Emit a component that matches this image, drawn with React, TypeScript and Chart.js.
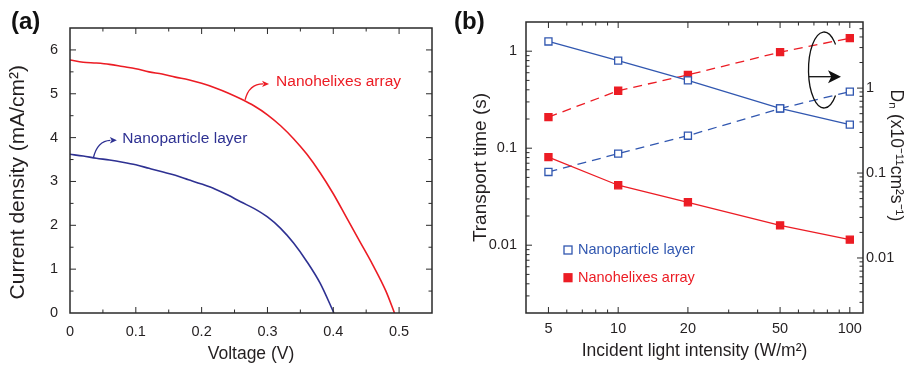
import React, { useEffect, useRef } from "react";
import { Chart, registerables } from "chart.js";

Chart.register(...registerables);

const FONT = '"Liberation Sans", Arial, Helvetica, sans-serif';
const TEXT = "#231f20";
const AXIS = "#2a2a2a";
const RED = "#ec1c24";
const NAVY = "#2e3192";
const BLUE = "#3157b0";

// ---------- Panel (a): J–V curves ----------
const voltageNH = [0, 0.02, 0.04, 0.06, 0.08, 0.1, 0.12, 0.14, 0.16, 0.18, 0.2, 0.22, 0.24, 0.26, 0.28, 0.3, 0.32, 0.34, 0.36, 0.38, 0.4, 0.42, 0.44, 0.46, 0.48, 0.493];
const currentNH = [5.77, 5.72, 5.7, 5.67, 5.62, 5.57, 5.5, 5.45, 5.38, 5.32, 5.24, 5.14, 5.02, 4.88, 4.72, 4.52, 4.27, 3.97, 3.62, 3.2, 2.72, 2.18, 1.64, 1.1, 0.5, 0];
const voltageNP = [0, 0.02, 0.04, 0.06, 0.08, 0.1, 0.12, 0.14, 0.16, 0.18, 0.2, 0.22, 0.24, 0.26, 0.28, 0.3, 0.32, 0.34, 0.36, 0.38, 0.401];
const currentNP = [3.62, 3.58, 3.53, 3.49, 3.44, 3.38, 3.3, 3.22, 3.14, 3.04, 2.94, 2.83, 2.69, 2.53, 2.38, 2.19, 1.93, 1.59, 1.17, 0.68, 0];
const xTicksA = [0, 0.1, 0.2, 0.3, 0.4, 0.5];
const yTicksA = [0, 1, 2, 3, 4, 5, 6];

// ---------- Panel (b): transport time & diffusion coefficient ----------
const intensity = [5, 10, 20, 50, 100];
const npTime = [1.26, 0.8, 0.5, 0.257, 0.175];
const nhTime = [0.081, 0.0415, 0.0277, 0.016, 0.0114];
const npDn = [0.103, 0.169, 0.275, 0.575, 0.91];
const nhDn = [0.456, 0.93, 1.43, 2.65, 3.87];
const xTicksB = [5, 10, 20, 50, 100];
const yTicksB = [0.01, 0.1, 1];

const near = (a: number, b: number) => Math.abs(a - b) <= Math.abs(b) * 1e-6 + 1e-9;
const inList = (list: number[], v: number) => list.some((t) => near(v, t));
const labelFor = (list: number[]) => (value: any) => {
  const v = Number(value);
  const hit = list.find((t) => near(v, t));
  return hit === undefined ? "" : String(hit);
};
const isNiceLog = (v: number) => {
  if (v <= 0) return false;
  const e = Math.floor(Math.log10(v) + 1e-9);
  const m = v / Math.pow(10, e);
  return Math.abs(m - Math.round(m)) < 1e-6;
};

type TickSpec = { id: string; sides: ("top" | "bottom" | "left" | "right")[]; major: (v: number) => boolean; keep: (v: number) => boolean };

function frameTicks(specs: TickSpec[]) {
  return {
    id: "frameTicks",
    afterDatasetsDraw(chart: any) {
      const { ctx, chartArea: a } = chart;
      ctx.save();
      ctx.strokeStyle = AXIS;
      ctx.lineWidth = 1;
      for (const sp of specs) {
        const s = chart.scales[sp.id];
        for (const t of s.ticks) {
          const v = t.value;
          if (!sp.keep(v)) continue;
          const p = s.getPixelForValue(v);
          const len = sp.major(v) ? 6 : 3.5;
          ctx.beginPath();
          for (const side of sp.sides) {
            if (side === "bottom" || side === "top") {
              if (p < a.left + 1 || p > a.right - 1) continue;
              const y0 = side === "bottom" ? a.bottom : a.top;
              const dir = side === "bottom" ? -1 : 1;
              ctx.moveTo(p, y0);
              ctx.lineTo(p, y0 + dir * len);
            } else {
              if (p < a.top + 1 || p > a.bottom - 1) continue;
              const x0 = side === "left" ? a.left : a.right;
              const dir = side === "left" ? 1 : -1;
              ctx.moveTo(x0, p);
              ctx.lineTo(x0 + dir * len, p);
            }
          }
          ctx.stroke();
        }
      }
      ctx.lineWidth = 1.5;
      ctx.strokeRect(a.left, a.top, a.right - a.left, a.bottom - a.top);
      ctx.restore();
    },
  };
}

function arrowHead(ctx: CanvasRenderingContext2D, tx: number, ty: number, len: number, half: number, color: string) {
  ctx.fillStyle = color;
  ctx.beginPath();
  ctx.moveTo(tx, ty);
  ctx.lineTo(tx - len, ty - half);
  ctx.lineTo(tx - len * 0.75, ty);
  ctx.lineTo(tx - len, ty + half);
  ctx.closePath();
  ctx.fill();
}

const annotationsA = {
  id: "annA",
  afterDraw(chart: any) {
    const { ctx } = chart;
    const xs = chart.scales.x;
    const ys = chart.scales.y;
    ctx.save();
    ctx.fillStyle = "#111";
    ctx.font = `bold 24px ${FONT}`;
    ctx.textBaseline = "middle";
    ctx.textAlign = "left";
    ctx.fillText("(a)", 11, 22);

    // red label
    let sx = xs.getPixelForValue(0.266);
    let sy = ys.getPixelForValue(4.86);
    ctx.strokeStyle = RED;
    ctx.lineWidth = 1.3;
    ctx.beginPath();
    ctx.moveTo(sx, sy);
    ctx.quadraticCurveTo(sx + 4, sy - 16, sx + 18, sy - 16);
    ctx.stroke();
    arrowHead(ctx, sx + 24, sy - 16, 7, 3.2, RED);
    ctx.fillStyle = RED;
    ctx.font = `15.5px ${FONT}`;
    ctx.fillText("Nanohelixes array", sx + 31, sy - 18);

    // blue label
    sx = xs.getPixelForValue(0.0355);
    sy = ys.getPixelForValue(3.54);
    ctx.strokeStyle = NAVY;
    ctx.beginPath();
    ctx.moveTo(sx, sy);
    ctx.quadraticCurveTo(sx + 4, sy - 17, sx + 17, sy - 17.5);
    ctx.stroke();
    arrowHead(ctx, sx + 23.5, sy - 17.5, 7, 3.2, NAVY);
    ctx.fillStyle = NAVY;
    ctx.fillText("Nanoparticle layer", sx + 29, sy - 19);
    ctx.restore();
  },
};

const annotationsB = {
  id: "annB",
  afterDraw(chart: any) {
    const { ctx, chartArea: a } = chart;
    ctx.save();
    ctx.fillStyle = "#111";
    ctx.font = `bold 24px ${FONT}`;
    ctx.textBaseline = "middle";
    ctx.textAlign = "left";
    ctx.fillText("(b)", 4, 22);

    // ellipse with arrow pointing to right axis
    const cx = a.right - 39;
    const cy = a.top + 48;
    ctx.strokeStyle = "#111";
    ctx.lineWidth = 1.3;
    ctx.beginPath();
    ctx.ellipse(cx, cy, 15.5, 38, 0, (42 * Math.PI) / 180, (318 * Math.PI) / 180, false);
    ctx.stroke();
    const ay = cy + 6.7;
    ctx.beginPath();
    ctx.moveTo(cx - 15, ay);
    ctx.lineTo(cx + 8, ay);
    ctx.stroke();
    arrowHead(ctx, cx + 17, ay, 13, 6.5, "#111");

    // legend
    const lx = a.left + 42;
    const rows = [
      { y: a.top + 228, text: "Nanoparticle layer", color: BLUE, filled: false },
      { y: a.top + 255.7, text: "Nanohelixes array", color: RED, filled: true },
    ];
    ctx.font = `14.5px ${FONT}`;
    for (const r of rows) {
      if (r.filled) {
        ctx.fillStyle = r.color;
        ctx.fillRect(lx - 4.6, r.y - 4.6, 9.2, 9.2);
      } else {
        ctx.strokeStyle = r.color;
        ctx.lineWidth = 1.3;
        ctx.strokeRect(lx - 4, r.y - 4, 8, 8);
      }
      ctx.fillStyle = r.color;
      ctx.fillText(r.text, lx + 10, r.y);
    }
    ctx.restore();
  },
};

const tickFont = { family: FONT, size: 14.5 };

function PanelA() {
  const ref = useRef<HTMLCanvasElement>(null);
  useEffect(() => {
    const chart = new Chart(ref.current!, {
      type: "line",
      data: {
        datasets: [
          {
            data: voltageNH.map((x, i) => ({ x, y: currentNH[i] })),
            borderColor: RED,
            borderWidth: 1.6,
            pointRadius: 0,
            cubicInterpolationMode: "monotone",
          },
          {
            data: voltageNP.map((x, i) => ({ x, y: currentNP[i] })),
            borderColor: NAVY,
            borderWidth: 1.6,
            pointRadius: 0,
            cubicInterpolationMode: "monotone",
          },
        ],
      },
      options: {
        animation: false,
        responsive: false,
        layout: { padding: { left: 0, right: 18, top: 28, bottom: 0 } },
        plugins: { legend: { display: false }, tooltip: { enabled: false } },
        scales: {
          x: {
            type: "linear",
            min: 0,
            max: 0.55,
            afterFit: (s: any) => {
              s.height = 53;
            },
            grid: { display: false, drawTicks: false },
            border: { display: false },
            ticks: { stepSize: 0.05, autoSkip: false, includeBounds: false, maxRotation: 0, padding: 10, color: TEXT, font: tickFont, callback: labelFor(xTicksA) },
            title: { display: true, text: "Voltage (V)", color: TEXT, font: { family: FONT, size: 17.5 }, padding: { top: 0, bottom: 1 } },
          },
          y: {
            type: "linear",
            min: 0,
            max: 6.5,
            afterFit: (s: any) => {
              s.width = 70;
            },
            grid: { display: false, drawTicks: false },
            border: { display: false },
            ticks: { stepSize: 0.5, autoSkip: false, includeBounds: false, padding: 12, color: TEXT, font: tickFont, callback: labelFor(yTicksA) },
            title: { display: true, text: "Current density (mA/cm²)\u00A0\u00A0\u00A0\u00A0", color: TEXT, font: { family: FONT, size: 21 }, padding: { top: 5.5, bottom: 0 } },
          },
        },
      },
      plugins: [
        frameTicks([
          { id: "x", sides: ["bottom", "top"], major: (v) => inList(xTicksA, v), keep: () => true },
          { id: "y", sides: ["left", "right"], major: (v) => inList(yTicksA, v), keep: () => true },
        ]),
        annotationsA,
      ],
    } as any);
    return () => chart.destroy();
  }, []);
  return <canvas ref={ref} width={450} height={366} style={{ position: "absolute", left: 0, top: 0, width: 450, height: 366 }} />;
}

function PanelB() {
  const ref = useRef<HTMLCanvasElement>(null);
  useEffect(() => {
    const pts = (ys: number[]) => intensity.map((x, i) => ({ x, y: ys[i] }));
    const common = { borderWidth: 1.3, pointStyle: "rect", pointRadius: 5, pointBorderWidth: 1.3, tension: 0 };
    const chart = new Chart(ref.current!, {
      type: "line",
      data: {
        datasets: [
          { ...common, data: pts(npTime), yAxisID: "y", borderColor: BLUE, pointBorderColor: BLUE, pointBackgroundColor: "#ffffff" },
          { ...common, data: pts(nhTime), yAxisID: "y", borderColor: RED, pointBorderColor: RED, pointBackgroundColor: RED },
          { ...common, data: pts(npDn), yAxisID: "y2", borderColor: BLUE, borderDash: [9, 6], pointBorderColor: BLUE, pointBackgroundColor: "#ffffff" },
          { ...common, data: pts(nhDn), yAxisID: "y2", borderColor: RED, borderDash: [9, 6], pointBorderColor: RED, pointBackgroundColor: RED },
        ],
      },
      options: {
        animation: false,
        responsive: false,
        layout: { padding: { left: 0, right: 0, top: 22, bottom: 0 } },
        plugins: { legend: { display: false }, tooltip: { enabled: false } },
        scales: {
          x: {
            type: "logarithmic",
            min: 4,
            max: 114,
            afterFit: (s: any) => {
              s.height = 53;
            },
            grid: { display: false, drawTicks: false },
            border: { display: false },
            ticks: { autoSkip: false, maxRotation: 0, padding: 7.5, color: TEXT, font: tickFont, callback: labelFor(xTicksB) },
            title: { display: true, text: "Incident light intensity (W/m²)", color: TEXT, font: { family: FONT, size: 17.5 }, padding: { top: 0, bottom: 4 } },
          },
          y: {
            type: "logarithmic",
            position: "left",
            min: 0.002,
            max: 2,
            afterFit: (s: any) => {
              s.width = 76;
            },
            grid: { display: false, drawTicks: false },
            border: { display: false },
            ticks: { autoSkip: false, padding: 9, color: TEXT, font: tickFont, callback: labelFor(yTicksB) },
            title: { display: true, text: "Transport time (s)", color: TEXT, font: { family: FONT, size: 19 }, padding: { top: 19, bottom: 0 } },
          },
          y2: {
            type: "logarithmic",
            position: "right",
            min: 0.00225,
            max: 6,
            afterFit: (s: any) => {
              s.width = 44;
            },
            grid: { display: false, drawTicks: false },
            border: { display: false },
            ticks: { autoSkip: false, padding: 3, color: TEXT, font: tickFont, callback: labelFor(yTicksB) },
            title: { display: true, text: "Dₙ (x10⁻¹¹cm²s⁻¹)\u00A0\u00A0\u00A0\u00A0\u00A0", color: TEXT, font: { family: FONT, size: 17.5 }, padding: { top: 1, bottom: 0 } },
          },
        },
      },
      plugins: [
        frameTicks([
          { id: "x", sides: ["bottom", "top"], major: (v) => inList(xTicksB, v), keep: isNiceLog },
          { id: "y", sides: ["left"], major: (v) => inList(yTicksB, v), keep: isNiceLog },
          { id: "y2", sides: ["right"], major: (v) => inList(yTicksB, v), keep: isNiceLog },
        ]),
        annotationsB,
      ],
    } as any);
    return () => chart.destroy();
  }, []);
  return <canvas ref={ref} width={457} height={366} style={{ position: "absolute", left: 450, top: 0, width: 457, height: 366 }} />;
}

export default function App() {
  return (
    <div style={{ position: "fixed", left: 0, top: 0, width: 907, height: 366, background: "#ffffff", overflow: "hidden" }}>
      <PanelA />
      <PanelB />
    </div>
  );
}
